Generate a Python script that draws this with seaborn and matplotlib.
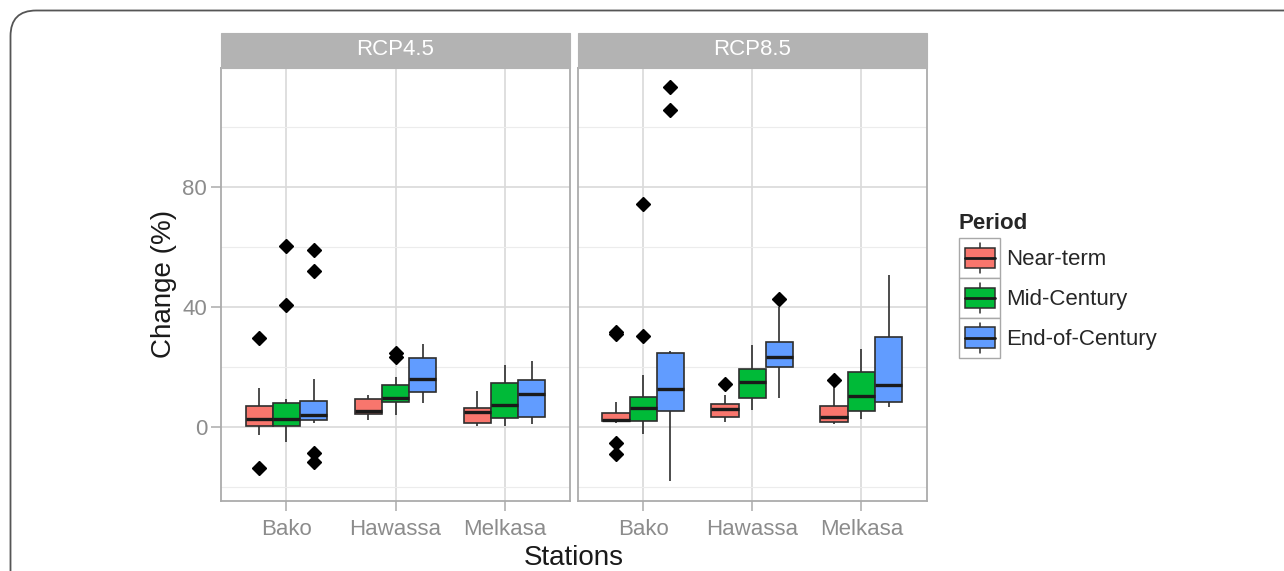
import numpy as np
import pandas as pd
import matplotlib
matplotlib.use("Agg")
import matplotlib.pyplot as plt
import seaborn as sns
from matplotlib.patches import Rectangle, FancyBboxPatch, Patch
from matplotlib.lines import Line2D
from matplotlib.legend_handler import HandlerBase
from matplotlib.ticker import FixedLocator

# ---------------- data ----------------
scenarios = ["RCP4.5", "RCP8.5"]
stations = ["Bako", "Hawassa", "Melkasa"]
periods = ["Near-term", "Mid-Century", "End-of-Century"]
colors = ["#F8766D", "#00BA38", "#619CFF"]

# rows: station, columns: period
rcp45_q1 = [[0.3, 0.3, 2.2], [4.1, 8.2, 11.7], [1.4, 2.8, 3.3]]
rcp45_med = [[2.7, 2.6, 3.8], [5.2, 9.7, 16.0], [4.8, 7.3, 10.9]]
rcp45_q3 = [[6.9, 8.0, 8.7], [9.3, 14.0, 22.9], [6.4, 14.6, 15.7]]
rcp45_lo = [[-2.7, -5.0, 1.4], [2.2, 3.8, 8.0], [0.1, 0.1, 0.9]]
rcp45_hi = [[12.9, 9.4, 15.9], [10.7, 16.5, 27.7], [11.8, 20.7, 21.8]]
rcp45_fliers = [[[29.6, -13.6], [60.1, 40.7], [59.0, 51.8, -8.6, -11.7]],
                [[], [24.6, 23.1], []],
                [[], [], []]]

rcp85_q1 = [[1.9, 1.8, 5.3], [3.4, 9.5, 20.0], [1.6, 5.3, 8.1]]
rcp85_med = [[2.3, 6.2, 12.6], [6.0, 14.9, 23.4], [3.1, 10.2, 13.9]]
rcp85_q3 = [[4.7, 9.8, 24.6], [7.6, 19.3, 28.1], [6.9, 18.1, 30.0]]
rcp85_lo = [[1.1, -2.5, -18.0], [1.5, 5.7, 9.6], [0.9, 2.6, 6.7]]
rcp85_hi = [[8.3, 17.2, 25.3], [10.7, 27.2, 40.0], [13.7, 26.0, 50.6]]
rcp85_fliers = [[[31.0, 31.5, -5.4, -9.1], [30.3, 74.2], [105.6, 113.1]],
                [[14.1], [], [42.6]],
                [[15.6], [], []]]

summary = {
    "RCP4.5": (rcp45_q1, rcp45_med, rcp45_q3, rcp45_lo, rcp45_hi, rcp45_fliers),
    "RCP8.5": (rcp85_q1, rcp85_med, rcp85_q3, rcp85_lo, rcp85_hi, rcp85_fliers),
}


def observations(q1, med, q3, lo, hi, fliers):
    """Arrange the read summary values so that the quartiles land exactly
    on the read box edges/median and whiskers on the read whisker ends."""
    lows = sorted(f for f in fliers if f < lo)
    highs = sorted(f for f in fliers if f > hi)
    k = max(len(lows), len(highs)) + 1
    below = lows + [lo] * (k - len(lows))
    above = [hi] * (k - len(highs)) + highs
    return below + [q1] * k + [med] * k + [q3] + above


rows = []
for sc in scenarios:
    q1, med, q3, lo, hi, fl = summary[sc]
    for i, st in enumerate(stations):
        for j, pe in enumerate(periods):
            for v in observations(q1[i][j], med[i][j], q3[i][j], lo[i][j], hi[i][j], fl[i][j]):
                rows.append((sc, st, pe, v))
df = pd.DataFrame(rows, columns=["scenario", "station", "period", "value"])

# ---------------- style ----------------
sns.set_theme(style="white")
plt.rcParams["font.family"] = ["Liberation Sans", "DejaVu Sans"]

W, H = 1284, 571
fig = plt.figure(figsize=(W / 100, H / 100), dpi=100)


def fx(px):
    return px / W


def fy(py):
    return 1 - py / H


panel_top, panel_bot = 67.5, 500.5
panel_lefts = [221.0, 577.7]
panel_w = 349.0
strip_h = 34.5

vmin, vmax = df["value"].min(), df["value"].max()
pad = (vmax - vmin) * 0.05
ylim = (vmin - pad, vmax + pad)

grid_major = "#d9d9d9"
grid_minor = "#ececec"
border = "#ababab"
tickcol = "#8c8c8c"
linecol = "#2e2e2e"
fsize = 7.5

axes = []
for k, sc in enumerate(scenarios):
    ax = fig.add_axes([fx(panel_lefts[k]), fy(panel_bot), fx(panel_w),
                       (panel_bot - panel_top) / H])
    axes.append(ax)
    sub = df[df["scenario"] == sc]
    sns.boxplot(data=sub, x="station", y="value", hue="period",
                order=stations, hue_order=periods, palette=colors,
                saturation=1, width=0.75, gap=0, linecolor=linecol,
                linewidth=1.2, showcaps=False, legend=False, ax=ax,
                medianprops={"color": "#1a1a1a", "linewidth": 2.4},
                flierprops={"marker": "D", "markerfacecolor": "black",
                            "markeredgecolor": "black", "markersize": fsize},
                zorder=3)
    for ln in ax.lines:
        if ln.get_linestyle() in ("None", "none", ""):
            ln.set_marker("D")
            ln.set_markerfacecolor("black")
            ln.set_markeredgecolor("black")
            ln.set_markersize(fsize)
    ax.set_xlim(-0.6, 2.6)
    ax.set_ylim(*ylim)
    ax.set_facecolor("white")
    ax.yaxis.set_major_locator(FixedLocator([0, 40, 80]))
    ax.yaxis.set_minor_locator(FixedLocator([-20, 20, 60, 100]))
    ax.grid(True, which="major", color=grid_major, linewidth=1.2, zorder=0)
    ax.grid(True, which="minor", axis="y", color=grid_minor, linewidth=0.8, zorder=0)
    ax.set_axisbelow(True)
    for sp in ax.spines.values():
        sp.set_visible(True)
        sp.set_color(border)
        sp.set_linewidth(1.3)
    ax.tick_params(axis="x", which="major", length=7, width=1.1, color=border,
                   labelsize=16, labelcolor=tickcol, pad=6, bottom=True)
    ax.tick_params(axis="y", which="both", left=False)
    ax.tick_params(axis="y", which="major", length=7, width=1.1, color=border,
                   labelsize=16, labelcolor=tickcol, pad=3)
    ax.set_xlabel("")
    ax.set_ylabel("")
    if k == 0:
        ax.tick_params(axis="y", which="major", left=True)
    else:
        ax.tick_params(axis="y", which="major", labelleft=False)
    # facet strip
    ax.add_patch(Rectangle((0, 1), 1, strip_h / (panel_bot - panel_top),
                           transform=ax.transAxes, facecolor="#b3b3b3",
                           edgecolor="#b3b3b3", linewidth=0.8, clip_on=False, zorder=5))
    ax.text(0.5, 1 + (strip_h / 2 + 1) / (panel_bot - panel_top), sc,
            transform=ax.transAxes, ha="center", va="center", color="white",
            fontsize=16, zorder=6)

# axis titles
fig.text(fx(164), fy((panel_top + panel_bot) / 2), "Change (%)", rotation=90,
         ha="center", va="center", fontsize=20, color="#1a1a1a")
fig.text(fx((panel_lefts[0] + panel_lefts[1] + panel_w) / 2), fy(558), "Stations",
         ha="center", va="center", fontsize=20, color="#1a1a1a")


# legend with boxplot keys
class BoxKey(HandlerBase):
    def create_artists(self, legend, orig_handle, xdescent, ydescent,
                       width, height, fontsize, trans):
        x0, y0 = -xdescent, -ydescent
        bg = Rectangle((x0, y0), width, height, facecolor="white",
                       edgecolor="#a8a8a8", linewidth=1.0, transform=trans)
        bw, bh = width * 0.73, height * 0.52
        bx, by = x0 + (width - bw) / 2, y0 + (height - bh) / 2
        cx = x0 + width / 2
        w1 = Line2D([cx, cx], [y0 + height * 0.12, by], color=linecol, lw=1.1, transform=trans)
        w2 = Line2D([cx, cx], [by + bh, y0 + height * 0.88], color=linecol, lw=1.1, transform=trans)
        box = Rectangle((bx, by), bw, bh, facecolor=orig_handle.get_facecolor(),
                        edgecolor=linecol, linewidth=1.1, transform=trans)
        med = Line2D([bx, bx + bw], [by + bh / 2] * 2, color="#1a1a1a", lw=2.0, transform=trans)
        return [bg, w1, w2, box, med]


handles = [Patch(facecolor=c) for c in colors]
leg = fig.legend(handles, periods, handler_map={Patch: BoxKey()},
                 loc="upper left", bbox_to_anchor=(fx(959), fy(213)),
                 frameon=False, fontsize=16, title="Period",
                 title_fontproperties={"weight": "bold", "size": 16},
                 handlelength=1.85, handleheight=2.38, labelspacing=0,
                 handletextpad=0.25, borderpad=0, borderaxespad=0,
                 alignment="left")
leg._legend_box.sep = 3.0

# outer rounded frame (cropped on the right and bottom)
frame = FancyBboxPatch((fx(10.5), fy(640)), fx(1400), (640 - 10.5) / H,
                       boxstyle="round,pad=0,rounding_size=0.02",
                       transform=fig.transFigure, facecolor="none",
                       edgecolor="#555555", linewidth=1.3, clip_on=False,
                       mutation_aspect=W / H)
fig.patches.append(frame)

fig.savefig("out.png", dpi=100, facecolor="white")
